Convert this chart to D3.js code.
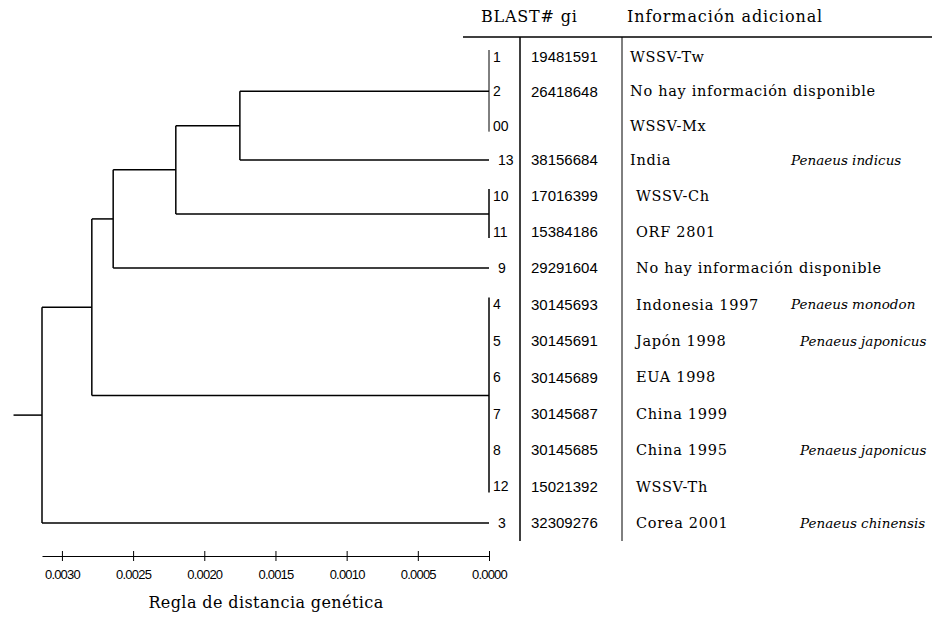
<!DOCTYPE html>
<html>
<head>
<meta charset="utf-8">
<script src="https://cdn.jsdelivr.net/npm/d3@7"></script>
<style>
  body { margin: 0; background: #fff; }
  svg { display: block; }
</style>
</head>
<body>
<div id="chart"></div>
<script>
const w = 932;
const h = 618;

// leaves, top to bottom
const leafNames = ["1", "2", "00", "13", "10", "11", "9", "4", "5", "6", "7", "8", "12", "3"];
const giNumbers = ["19481591", "26418648", "", "38156684", "17016399", "15384186", "29291604",
  "30145693", "30145691", "30145689", "30145687", "30145685", "15021392", "32309276"];
const infoText = ["WSSV-Tw", "No hay información disponible", "WSSV-Mx", "India", "WSSV-Ch", "ORF 2801",
  "No hay información disponible", "Indonesia 1997", "Japón 1998", "EUA 1998", "China 1999",
  "China 1995", "WSSV-Th", "Corea 2001"];
const species = ["", "", "", "Penaeus indicus", "", "", "", "Penaeus monodon", "Penaeus japonicus",
  "", "", "Penaeus japonicus", "", "Penaeus chinensis"];
// which tip (collapsed group) each leaf belongs to
const leafGroup = ["g1", "g1", "g1", "g13", "g10", "g10", "g9", "g4", "g4", "g4", "g4", "g4", "g4", "g3"];

// tree topology and genetic distance of each node
const nodeIds     = ["A", "B", "C", "D", "E", "g1", "g13", "g10", "g9", "g4", "g3"];
const nodeParents = ["", "A", "B", "C", "D", "E", "E", "D", "C", "B", "A"];
const nodeDist    = [0.00314, 0.00279, 0.00264, 0.00220, 0.00175, 0, 0, 0, 0, 0, 0];

const axisTicks = [0.0030, 0.0025, 0.0020, 0.0015, 0.0010, 0.0005, 0.0000];

const svg = d3.select('#chart')
  .append('svg')
  .attr('width', w)
  .attr('height', h);

const xScale = d3.scaleLinear().domain([0.00314, 0]).range([42, 489]);
const yScale = d3.scaleLinear().domain([0, 3, 6, 13]).range([57, 160, 268, 523]);

const groupSize = g => leafGroup.filter(x => x === g).length;

const table = nodeIds.map((id, i) => ({ id: id, parent: nodeParents[i], dist: nodeDist[i] }));
const root = d3.stratify().id(d => d.id).parentId(d => d.parent || null)(table);

// y of each tip = mean of its rows, internal = mean of children
root.eachAfter(n => {
  if (n.children) {
    n.y = d3.mean(n.children, c => c.y);
  } else {
    const rows = leafNames.map((l, i) => i).filter(i => leafGroup[i] === n.id);
    n.rows = rows;
    n.y = d3.mean(rows, i => yScale(i));
  }
  n.x = xScale(n.data.dist);
});

const tree = svg.append('g')
  .attr('fill', 'none')
  .attr('stroke', '#000')
  .attr('stroke-width', 1.5);

// root stub
tree.append('line')
  .attr('x1', xScale(root.data.dist + 0.0002)).attr('x2', root.x)
  .attr('y1', root.y).attr('y2', root.y);

root.each(n => {
  if (n.children) {
    tree.append('line')
      .attr('x1', n.x).attr('x2', n.x)
      .attr('y1', n.children[0].y).attr('y2', n.children[n.children.length - 1].y);
    n.children.forEach(c => {
      tree.append('line')
        .attr('x1', n.x).attr('x2', c.x)
        .attr('y1', c.y).attr('y2', c.y);
    });
  } else if (n.rows.length > 1) {
    tree.append('line')
      .attr('stroke-width', n.id === 'g1' ? 1 : 1.5)
      .attr('x1', n.x).attr('x2', n.x)
      .attr('y1', yScale(n.rows[0]) - 7)
      .attr('y2', yScale(n.rows[n.rows.length - 1]) + 6);
  }
});

// leaf numbers
svg.append('g')
  .selectAll('text')
  .data(leafNames)
  .enter()
  .append('text')
  .attr('x', (d, i) => groupSize(leafGroup[i]) > 1 ? 493 : 498)
  .attr('y', (d, i) => yScale(i))
  .attr('dy', '0.35em')
  .style('font-family', 'Liberation Sans, Arial, sans-serif')
  .style('font-size', '14px')
  .text(d => d);

// gi column
svg.append('g')
  .selectAll('text')
  .data(giNumbers)
  .enter()
  .append('text')
  .attr('x', 531)
  .attr('y', (d, i) => yScale(i))
  .attr('dy', '0.35em')
  .style('font-family', 'Liberation Sans, Arial, sans-serif')
  .style('font-size', '15px')
  .text(d => d);

svg.append('g')
  .selectAll('text')
  .data(infoText)
  .enter()
  .append('text')
  .attr('x', (d, i) => i < 4 ? 630 : 636)
  .attr('y', (d, i) => yScale(i))
  .attr('dy', '0.35em')
  .style('font-family', 'DejaVu Serif, serif')
  .style('font-size', '14.5px')
  .style('letter-spacing', '0.7px')
  .text(d => d);

svg.append('g')
  .selectAll('text')
  .data(species)
  .enter()
  .append('text')
  .attr('x', (d, i) => i < 8 ? 791 : 800)
  .attr('y', (d, i) => yScale(i))
  .attr('dy', '0.35em')
  .style('font-family', 'DejaVu Serif, serif')
  .style('font-style', 'italic')
  .style('font-size', '13.5px')
  .text(d => d);

// header and table rules
svg.append('text')
  .attr('x', 481).attr('y', 22)
  .style('font-family', 'DejaVu Serif, serif')
  .style('font-size', '16px')
  .style('letter-spacing', '0.8px')
  .text('BLAST# gi');
svg.append('text')
  .attr('x', 627).attr('y', 22)
  .style('font-family', 'DejaVu Serif, serif')
  .style('font-size', '16px')
  .style('letter-spacing', '0.9px')
  .text('Información adicional');

svg.append('line')
  .attr('x1', 463).attr('x2', w).attr('y1', 37).attr('y2', 37)
  .attr('stroke', '#000').attr('stroke-width', 1.5);
svg.append('line')
  .attr('x1', 520).attr('x2', 520).attr('y1', 37).attr('y2', 541)
  .attr('stroke', '#000').attr('stroke-width', 1.5);
svg.append('line')
  .attr('x1', 622).attr('x2', 622).attr('y1', 37).attr('y2', 541)
  .attr('stroke', '#000').attr('stroke-width', 1);

// scale bar
const xAxis = d3.axisBottom(xScale)
  .tickValues(axisTicks)
  .tickSizeOuter(0)
  .tickFormat(d3.format('.4f'));

const ax = svg.append('g')
  .attr('id', 'x-axis')
  .attr('transform', 'translate(0,556)')
  .call(xAxis);

ax.select('.domain').attr('stroke-width', 1.2);
ax.selectAll('.tick line').attr('y1', -5).attr('y2', 5);
ax.selectAll('.tick text')
  .attr('y', 14)
  .style('font-family', 'Liberation Sans, Arial, sans-serif')
  .style('font-size', '13px')
  .style('letter-spacing', '-0.8px')
  .attr('fill', '#000');

svg.append('text')
  .attr('x', 266).attr('y', 608)
  .attr('text-anchor', 'middle')
  .style('font-family', 'DejaVu Serif, serif')
  .style('font-size', '16px')
  .style('letter-spacing', '0.4px')
  .text('Regla de distancia genética');
</script>
</body>
</html>
